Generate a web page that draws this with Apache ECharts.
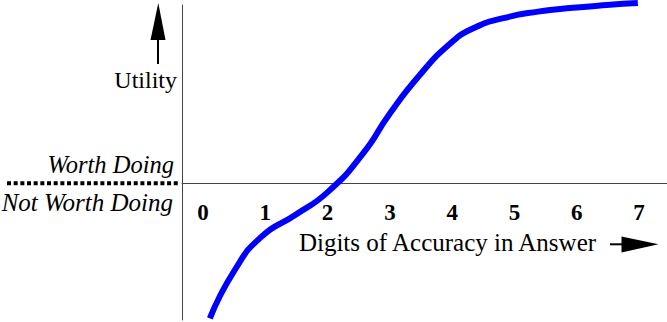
<!DOCTYPE html>
<html>
<head>
<meta charset="utf-8">
<script src="https://cdn.jsdelivr.net/npm/echarts@6/dist/echarts.min.js"></script>
<style>
html,body{margin:0;padding:0;background:#fff;}
#c{width:667px;height:322px;}
</style>
</head>
<body>
<div id="c"></div>
<script>
// Tick labels (digits of accuracy)
var digitTicks = [0, 1, 2, 3, 4, 5, 6, 7];
// Utility curve
var curveX = [0.11, 0.51, 0.94, 1.48, 2.01, 2.57, 3.00, 3.48, 3.96, 4.34, 4.82, 5.38, 5.94, 6.48, 6.98];
var curveY = [-6.77, -4.35, -2.68, -1.6, -0.43, 1.48, 3.48, 5.40, 6.95, 7.74, 8.24, 8.57, 8.76, 8.9, 9.0];
// Annotation texts
var xAxisTitle = 'Digits of Accuracy in Answer';
var yAxisTitle = 'Utility';
var aboveLabel = 'Worth Doing';
var belowLabel = 'Not Worth Doing';

var serif = 'Liberation Serif';
var chart = echarts.init(document.getElementById('c'), null, {renderer: 'svg'});
var data = curveX.map(function (x, i) { return [x, curveY[i]]; });

function txt(x, y, s, italic, size) {
  return {type: 'text', x: x, y: y, style: {
    text: s, fontFamily: serif, fontSize: size, fontStyle: italic ? 'italic' : 'normal',
    fill: '#000', align: 'right', verticalAlign: 'middle'}};
}

chart.setOption({
  animation: false,
  backgroundColor: '#fff',
  grid: {left: 182, right: 0, top: 5, bottom: 2, containLabel: false, outerBoundsMode: 'none'},
  xAxis: {
    type: 'value', min: -0.337, max: 7.448,
    position: 'bottom', offset: -137,
    axisLine: {show: true, onZero: false, lineStyle: {color: '#444', width: 1}},
    axisTick: {show: false},
    splitLine: {show: false},
    axisLabel: {
      customValues: digitTicks, margin: 18,
      fontFamily: serif, fontWeight: 'bold', fontSize: 23, color: '#000',
      formatter: function (v) { return String(v); }
    },
    name: xAxisTitle, nameLocation: 'middle', nameGap: 47, nameMoveOverlap: false,
    nameTextStyle: {fontFamily: serif, fontSize: 25, color: '#000', padding: [0, 0, 0, 46]}
  },
  yAxis: {
    type: 'value', min: -6.85, max: 8.9,
    axisLine: {show: true, onZero: false, lineStyle: {color: '#444', width: 1}},
    axisTick: {show: false},
    axisLabel: {show: false},
    splitLine: {show: false}
  },
  series: [{
    type: 'line', data: data, smooth: 0.55,
    showSymbol: false, clip: false,
    lineStyle: {color: '#0000ff', width: 6, cap: 'butt'}
  }],
  graphic: [
    {type: 'line', shape: {x1: 7, y1: 183.3, x2: 179, y2: 183.3},
     style: {stroke: '#000', lineWidth: 4, lineDash: [4, 2.67]}},
    {type: 'line', shape: {x1: 158, y1: 36, x2: 158, y2: 64}, style: {stroke: '#000', lineWidth: 2}},
    {type: 'polygon', shape: {points: [[158.3, 3], [150.5, 40], [165.5, 40]]}, style: {fill: '#000'}},
    {type: 'line', shape: {x1: 610, y1: 244.3, x2: 625, y2: 244.3}, style: {stroke: '#000', lineWidth: 2}},
    {type: 'polygon', shape: {points: [[621.5, 236.5], [658.5, 244.3], [621.5, 252.5]]}, style: {fill: '#000'}},
    txt(177, 80, yAxisTitle, false, 24),
    txt(174, 164.4, aboveLabel, true, 24.5),
    txt(173, 202.2, belowLabel, true, 25)
  ]
});
</script>
</body>
</html>
